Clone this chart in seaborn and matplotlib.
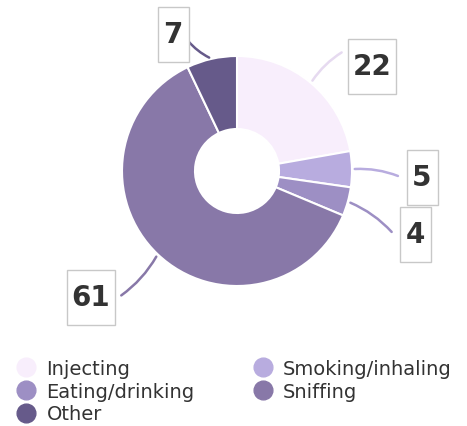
import numpy as np
import matplotlib
matplotlib.use("Agg")
import matplotlib.pyplot as plt
from matplotlib.lines import Line2D
from matplotlib.patches import Rectangle
import seaborn as sns

# Route of administration shares
categories = ["Injecting", "Smoking/inhaling", "Eating/drinking", "Sniffing", "Other"]
values = [22, 5, 4, 61, 7]
colors = ["#f8eefc", "#b8acdf", "#9d8fc4", "#8878a8", "#665a8a"]

# Label box centres (pixel space, y measured from top)
label_pos = [(372, 67), (422, 178), (415, 235), (91, 298), (173, 35)]

sns.set_theme(style="white")
plt.rcParams["font.family"] = ["DejaVu Sans"]

W, H = 467, 427
fig = plt.figure(figsize=(W / 100, H / 100), dpi=100)
ax = fig.add_axes([0, 0, 1, 1])

cx, cy, r = 237, H - 172, 115
wedges, _ = ax.pie(values, colors=colors, startangle=90, counterclock=False,
                   center=(cx, cy), radius=r,
                   wedgeprops=dict(width=r - 42, edgecolor="white", linewidth=1.5))
ax.set_xlim(0, W)
ax.set_ylim(0, H)
ax.set_aspect("equal")
ax.axis("off")

line_colors = ["#e6daf0", "#b8acdf", "#9d8fc4", "#8878a8", "#665a8a"]
for w, v, (lx, ly), lc in zip(wedges, values, label_pos, line_colors):
    ang = np.deg2rad((w.theta1 + w.theta2) / 2)
    px, py = cx + r * np.cos(ang), cy + r * np.sin(ang)
    ty = H - ly
    n = len(str(v))
    bw, bh = 14 + 17 * n, 55
    # connector end on the side of the box facing the ring
    if v == 22:
        ex, ey = lx - bw / 2 - 4, ty + 15
    elif v == 7:
        ex, ey = lx + bw / 2 - 2, ty - 5
    elif lx > cx:
        ex, ey = lx - bw / 2 - 6, ty
    else:
        ex, ey = lx + bw / 2 + 4, ty
    ax.annotate("", xy=(px, py), xytext=(ex, ey),
                arrowprops=dict(arrowstyle="-", color=lc, lw=1.8,
                                connectionstyle="arc3,rad=0.12"))
    ax.add_patch(Rectangle((lx - bw / 2, ty - bh / 2), bw, bh,
                           facecolor="white", edgecolor="#c8c8c8", lw=1, zorder=3))
    ax.text(lx, ty, str(v), ha="center", va="center", fontsize=20,
            fontweight="bold", color="#333333", zorder=4)

order = [0, 2, 4, 1, 3]
handles = [Line2D([], [], marker="o", linestyle="none", markersize=13.5,
                  markerfacecolor=colors[i], markeredgecolor=colors[i])
           for i in order]
labels = [categories[i] for i in order]
fig.legend(handles, labels, ncol=2, loc="upper left",
           bbox_to_anchor=(7 / W, 1 - 350 / H), frameon=False,
           fontsize=14, labelcolor="#333333", handletextpad=0.53,
           labelspacing=0.2, columnspacing=3.0, handlelength=1.0,
           borderpad=0)

fig.savefig("out.png", dpi=100)
